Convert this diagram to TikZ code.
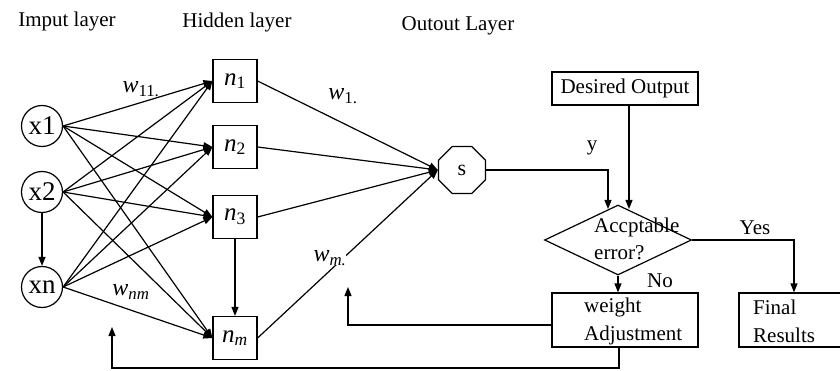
\documentclass[tikz,border=0pt]{standalone}
\usepackage{fontspec}
\setmainfont{Liberation Serif}
\usetikzlibrary{shapes.geometric,arrows.meta,calc}
\begin{document}
\begin{tikzpicture}[x=1pt,y=-1pt,
  arr/.style={-{Triangle[length=9pt,width=7pt]}, line width=1.2pt},
  inp/.style={circle,draw,line width=1.2pt,minimum size=41pt,inner sep=0pt,font=\fontsize{27}{27}\selectfont},
  hid/.style={rectangle,draw,line width=1.2pt,minimum width=44pt,minimum height=43pt,inner sep=0pt,font=\fontsize{25}{25}\selectfont\itshape},
  boxn/.style={rectangle,draw,line width=1.2pt,inner sep=0pt},
  txt/.style={font=\fontsize{21}{28}\selectfont, inner sep=0pt},
  wl/.style={font=\fontsize{24}{24}\selectfont\itshape, inner sep=0pt, fill=white}
]
\useasboundingbox (0,0) rectangle (840,371);

% titles
\node[txt] (tin) at (67,21) {Imput layer};
\node[txt] (thid) at (237,22) {Hidden layer};
\node[txt] (tout) at (458,26) {Outout Layer};

% input nodes
\node[inp] (x1) at (42,126) {x1};
\node[inp] (x2) at (42,192) {x2};
\node[inp] (xn) at (42,287) {xn};

% hidden nodes
\node[hid] (n1) at (235,81) {n\textsubscript{\upshape 1}};
\node[hid] (n2) at (235,147) {n\textsubscript{\upshape 2}};
\node[hid] (n3) at (235,217) {n\textsubscript{\upshape 3}};
\node[hid] (nm) at (235,338) {n\textsubscript{m}};

% output
\node[regular polygon, regular polygon sides=8, draw, line width=1.2pt, minimum size=51pt, inner sep=0pt, font=\fontsize{22}{22}\selectfont] (s) at (462,170) {s};

% input -> hidden
\foreach \i in {x1,x2,xn}{
  \foreach \j in {n1,n2,n3,nm}{
    \draw[arr] (\i.east) -- (\j.west);
  }
}
\draw[arr] (x2) -- (xn);
\draw[arr] (n3) -- (nm);

% hidden -> output
\foreach \j in {n1,n2,n3,nm}{
  \draw[arr] (\j.east) -- (s.west);
}

% weight labels
\node[wl] (w11) at (141,89) {w\textsubscript{\upshape 11.}};
\node[wl] (w1) at (343,96) {w\textsubscript{\upshape 1.}};
\node[wl] (wm) at (330,258) {w\textsubscript{m.}};
\node[wl] (wnm) at (131,292) {w\textsubscript{nm}};

% flowchart
\node[boxn, minimum width=146pt, minimum height=33pt, txt] (des) at (625,88.5) {Desired Output};
\node[diamond, draw, line width=1.2pt, minimum width=147pt, minimum height=70pt, inner sep=0pt] (dec) at (618,240) {};
\node[txt, align=left, anchor=base west] (dect) at (594,260) {Accptable\\error?};
\node[boxn, minimum width=146pt, minimum height=54pt] (wt) at (625,320) {};
\node[txt, align=left, anchor=base west] (wtt) at (584,340) {weight\\Adjustment};
\node[boxn, minimum width=110pt, minimum height=54pt] (fin) at (794,320) {};
\node[txt, align=left, anchor=base west] (fint) at (753,342) {Final\\Results};

\node[txt] (ylab) at (592,148) {y};
\node[txt] (yes) at (755,228) {Yes};
\node[txt] (no) at (660,281) {No};

\coordinate (yin) at (608,209);
\coordinate (din) at (629,209);
\draw[arr] (s.east) -| (yin);
\draw[arr] (des.south -| din) -- (din);
\draw[arr] (dec.east) -| (fin.north);
\draw[arr] (dec.south) -- (dec.south |- wt.north);

% feedback
\coordinate (fb1) at (348,287);
\draw[arr] ([yshift=-5pt]wt.west) -| (fb1);
\coordinate (fbc) at (112,368);
\coordinate (fb2) at (112,327);
\draw[arr] ([xshift=-6pt]wt.south) |- (fbc) -- (fb2);
\end{tikzpicture}
\end{document}
